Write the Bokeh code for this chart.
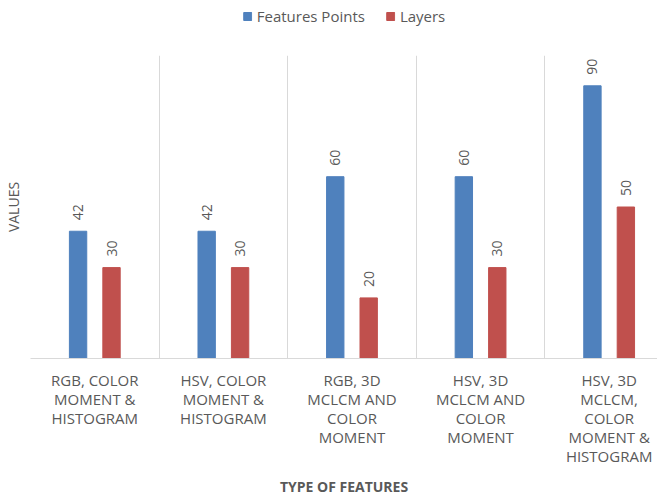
from bokeh.plotting import figure
from bokeh.layouts import column
from bokeh.models import (ColumnDataSource, Range1d, FixedTicker, Legend, LegendItem)
from bokeh.embed import file_html
from bokeh.resources import INLINE
from bokeh.core.properties import value
import math

categories = [
    "RGB, COLOR\nMOMENT &\nHISTOGRAM",
    "HSV, COLOR\nMOMENT &\nHISTOGRAM",
    "RGB, 3D\nMCLCM AND\nCOLOR\nMOMENT",
    "HSV, 3D\nMCLCM AND\nCOLOR\nMOMENT",
    "HSV, 3D\nMCLCM,\nCOLOR\nMOMENT &\nHISTOGRAM",
]
features_points = [42, 42, 60, 60, 90]
layers = [30, 30, 20, 30, 50]
series_names = ["Features Points", "Layers"]
colors = ["#4F81BD", "#C0504D"]

TXT = "#595959"
FONT = "Open Sans"

centers = [i + 0.5 for i in range(len(categories))]
dodge = 0.13
bar_w = 0.135

src_fp = ColumnDataSource(dict(x=[c - dodge for c in centers], top=features_points,
                               lab=[str(v) for v in features_points]))
src_ly = ColumnDataSource(dict(x=[c + dodge for c in centers], top=layers,
                               lab=[str(v) for v in layers]))

# ---- legend strip (top): same series, drawn outside its visible y range ----
lg = figure(width=657, height=55, output_backend="svg", toolbar_location=None,
            x_range=Range1d(0, 5), y_range=Range1d(1000, 1001),
            x_axis_type=None, y_axis_type=None, title=None,
            min_border_left=22, min_border_right=0, min_border_top=0, min_border_bottom=0)
lg.outline_line_color = None
lg.xgrid.grid_line_color = None
lg.ygrid.grid_line_color = None
d1 = lg.vbar(x="x", top="top", width=bar_w, source=src_fp, color=colors[0])
d2 = lg.vbar(x="x", top="top", width=bar_w, source=src_ly, color=colors[1])
legend = Legend(items=[LegendItem(label=series_names[0], renderers=[d1]),
                       LegendItem(label=series_names[1], renderers=[d2])],
                orientation="horizontal", location="top_center",
                glyph_width=10, glyph_height=10, label_standoff=5, spacing=20,
                padding=0, margin=6, border_line_color=None, background_fill_alpha=0,
                label_text_font=FONT, label_text_font_size="15px", label_text_color=TXT)
lg.add_layout(legend, "center")

# ---- main chart ----
p = figure(width=657, height=444, output_backend="svg", toolbar_location=None,
           x_range=Range1d(0, 629 / 129), y_range=Range1d(0, 100),
           min_border_left=28, min_border_right=0, min_border_top=0, min_border_bottom=136,
           title=None)
p.outline_line_color = None
p.background_fill_color = "white"

r1 = p.vbar(x="x", top="top", width=bar_w, source=src_fp, color=colors[0])
r2 = p.vbar(x="x", top="top", width=bar_w, source=src_ly, color=colors[1])

for src in (src_fp, src_ly):
    p.text(x="x", y="top", text="lab", source=src, angle=math.pi / 2,
           text_align="left", text_baseline="middle", y_offset=-11,
           text_font=value(FONT), text_font_size="14px", text_color=TXT)

# x axis
xa = p.xaxis[0]
xa.ticker = FixedTicker(ticks=centers)
xa.major_label_overrides = {c: lab for c, lab in zip(centers, categories)}
xa.major_tick_line_color = None
xa.minor_tick_line_color = None
xa.axis_line_color = "#D9D9D9"
xa.major_label_text_font = FONT
xa.major_label_text_font_size = "15px"
xa.major_label_text_color = TXT
xa.major_label_text_line_height = 0.96
xa.major_label_standoff = 5
xa.axis_label = "TYPE OF FEATURES"
xa.axis_label_text_font = FONT
xa.axis_label_text_font_size = "14px"
xa.axis_label_text_font_style = "bold"
xa.axis_label_text_color = TXT
xa.axis_label_standoff = 8

# y axis
ya = p.yaxis[0]
ya.ticker = FixedTicker(ticks=[])
ya.axis_line_color = None
ya.major_tick_line_color = None
ya.minor_tick_line_color = None
ya.major_label_text_font_size = "0px"
ya.axis_label = "VALUES"
ya.axis_label_text_font = FONT
ya.axis_label_text_font_size = "14px"
ya.axis_label_text_font_style = "normal"
ya.axis_label_text_color = TXT
ya.axis_label_standoff = 8

p.xgrid.ticker = FixedTicker(ticks=list(range(len(categories))))
p.xgrid.grid_line_color = "#D9D9D9"
p.ygrid.grid_line_color = None

layout = column(lg, p, spacing=0)
open("out.html", "w").write(file_html(layout, INLINE))
